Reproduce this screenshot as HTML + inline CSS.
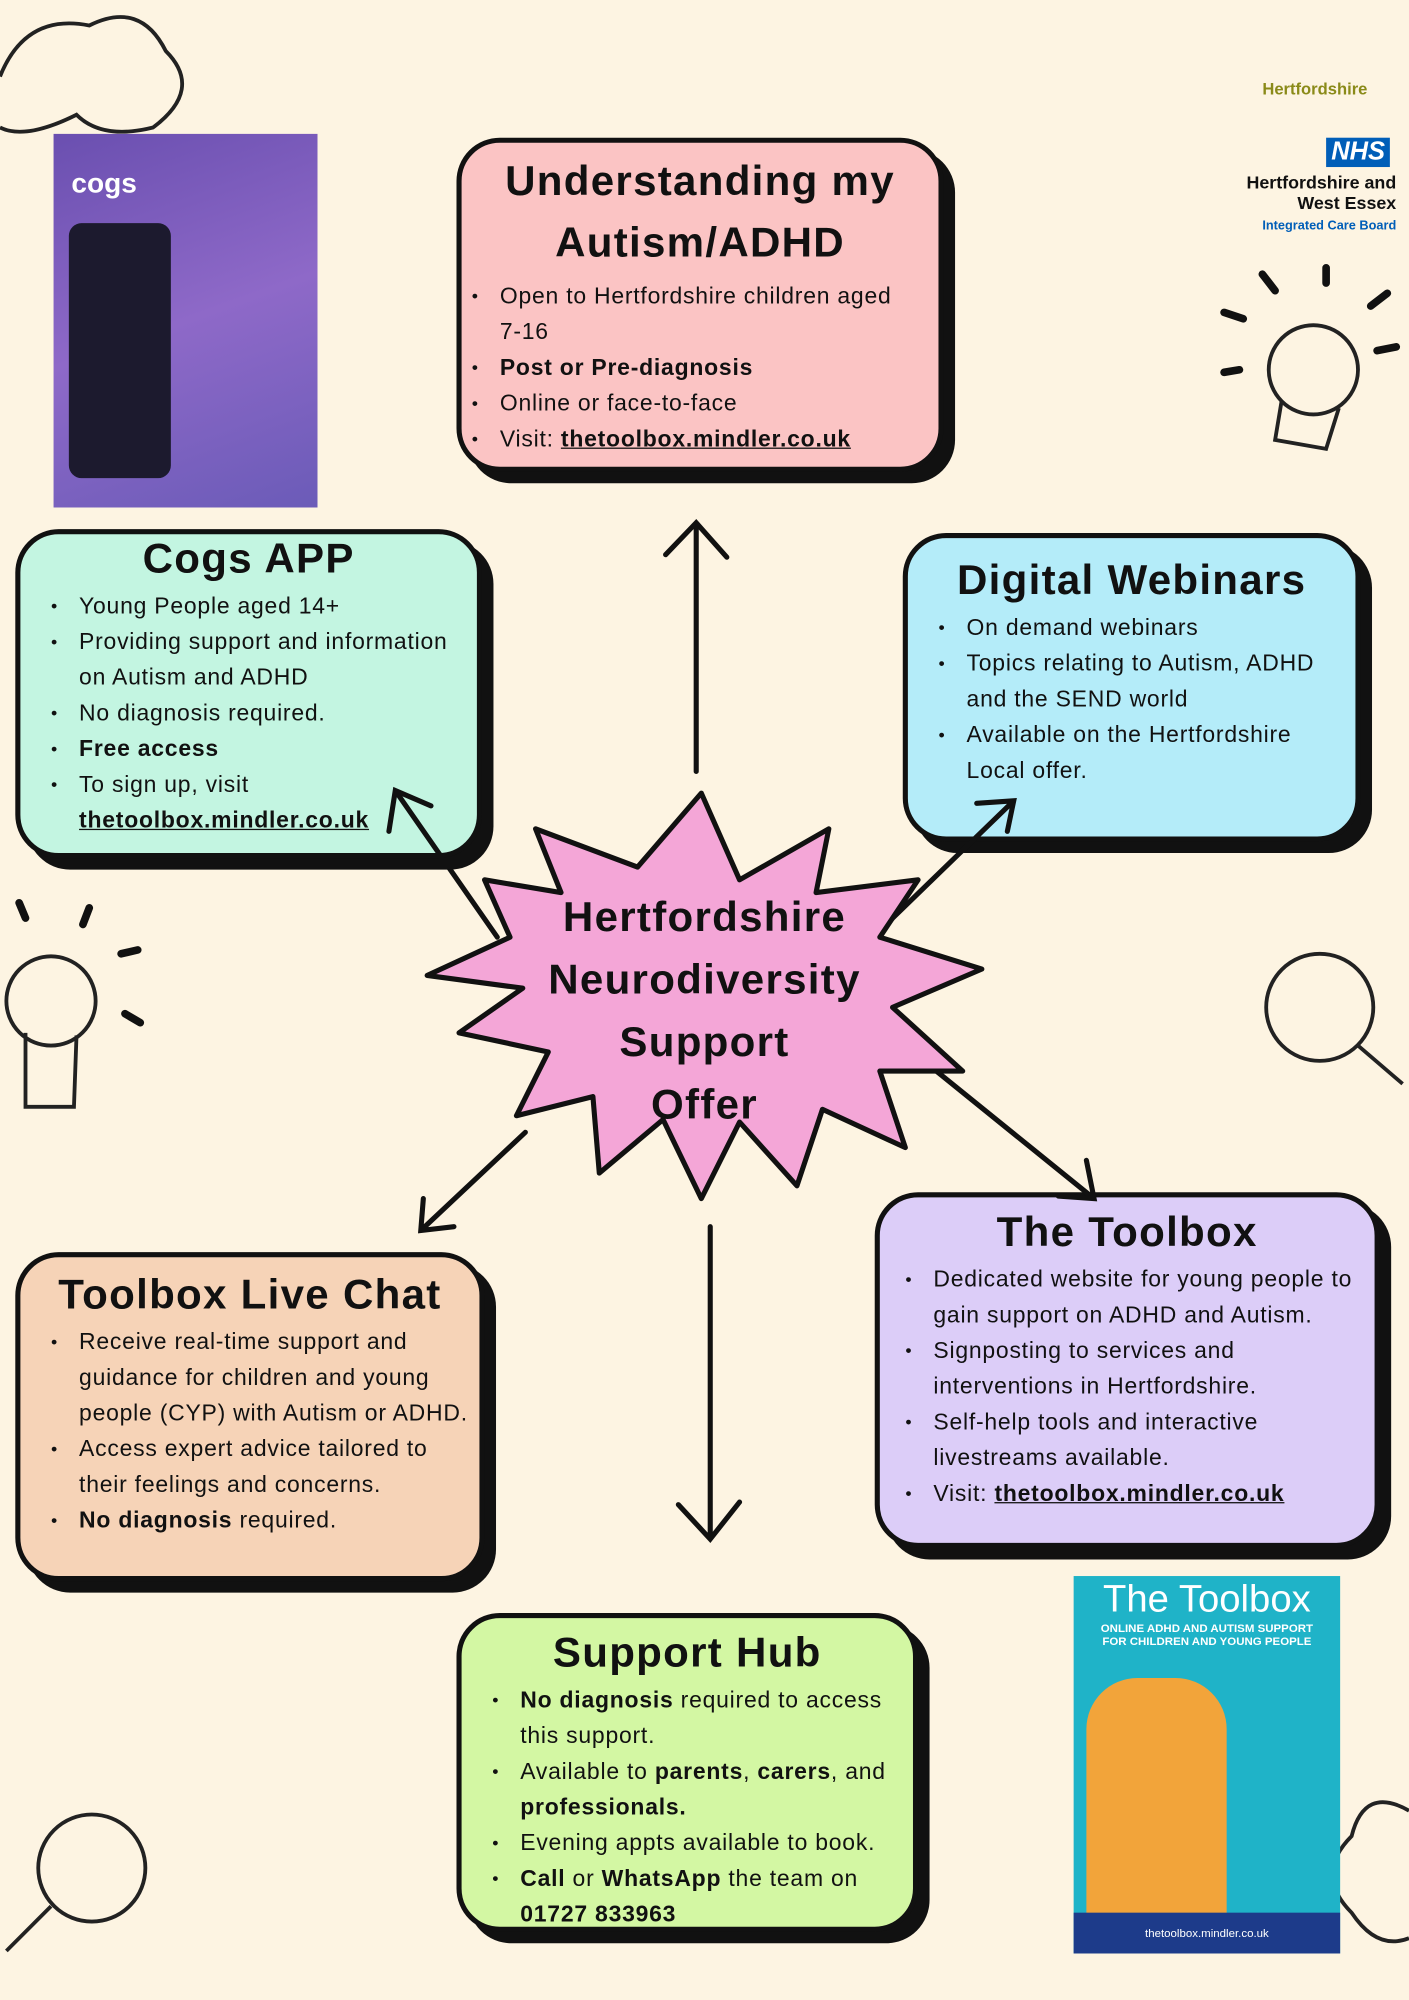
<!DOCTYPE html>
<html><head><meta charset="utf-8"><style>
html,body{margin:0;padding:0}
body{width:1409px;height:2000px;overflow:hidden;background:#fdf4e2}
#w{position:absolute;left:0;top:0;width:1105px;height:1568px;transform:scale(1.27511);transform-origin:0 0;font-family:"Liberation Sans","DejaVu Sans",sans-serif;color:#111}
.b{position:absolute;border:4px solid #111;border-radius:34px;box-shadow:9px 9px 0 #111;box-sizing:border-box}
.b h2{margin:0;text-align:center;font-weight:bold;font-size:33px;letter-spacing:1px}
.b ul{margin:4px 0 0 0;padding-left:46px;font-size:18px;line-height:28px;list-style:none;letter-spacing:0.6px}
.b li{position:relative}
.b li:before{content:"•";position:absolute;left:-22px;font-size:14px}
u{font-weight:bold}
</style></head><body><div id="w">
<svg width="1105" height="1568" style="position:absolute;left:0;top:0">
<g fill="none" stroke="#222" stroke-width="3">
<circle cx="1030" cy="290" r="35"/><path d="M1005 315 L1000 345 L1040 352 L1050 320"/>
<circle cx="40" cy="785" r="35"/><path d="M20 810 L20 868 L58 868 L60 812"/>
<circle cx="1035" cy="790" r="42"/><path d="M1065 820 L1100 850"/>
<circle cx="72" cy="1465" r="42"/><path d="M40 1495 L5 1530"/>
<path d="M0 60 Q20 10 70 20 Q110 0 130 40 Q160 70 120 100 Q80 110 60 90 Q20 110 0 100"/>
<path d="M1105 1420 Q1070 1400 1060 1440 Q1030 1470 1060 1500 Q1080 1530 1105 1520"/>
</g>
<g stroke="#111" stroke-width="6" stroke-linecap="round">
<path d="M960 245 L975 250 M990 215 L1000 228 M1040 210 L1040 222 M1075 240 L1088 230 M1080 275 L1095 272 M960 292 L972 290"/>
<path d="M15 708 L20 720 M70 712 L65 725 M95 748 L108 745 M98 795 L110 802"/>
</g>
</svg>
<div style="position:absolute;left:42px;top:105px;width:207px;height:293px;background:linear-gradient(160deg,#6a4fb0,#8e69c8 50%,#6b5bb8);color:#fff">
<div style="font-size:22px;font-weight:bold;padding:26px 0 0 14px">cogs</div>
<div style="position:absolute;left:12px;top:70px;width:80px;height:200px;background:#1c1a2e;border-radius:10px"></div>
</div>
<div style="position:absolute;left:842px;top:1236px;width:209px;height:296px;background:#1fb3c8;color:#fff;text-align:center">
<div style="font-size:30px;padding-top:2px">The Toolbox</div>
<div style="font-size:9px;font-weight:bold">ONLINE ADHD AND AUTISM SUPPORT<br>FOR CHILDREN AND YOUNG PEOPLE</div>
<div style="position:absolute;left:10px;top:80px;width:110px;height:185px;background:#f2a43a;border-radius:40px 40px 0 0"></div>
<div style="position:absolute;left:0;bottom:0;width:209px;height:32px;background:#1d3b8a;font-size:9px;line-height:32px">thetoolbox.mindler.co.uk</div>
</div>
<div style="position:absolute;left:990px;top:62px;color:#8a8a18;font-size:13px;font-weight:bold">Hertfordshire</div>
<div style="position:absolute;left:1040px;top:108px;background:#005eb8;color:#fff;font-weight:bold;font-style:italic;font-size:20px;padding:0 4px">NHS</div>
<div style="position:absolute;right:10px;top:135px;text-align:right;font-size:14px;font-weight:bold;line-height:16px">Hertfordshire and<br>West Essex<br><span style="color:#005eb8;font-size:10px">Integrated Care Board</span></div>

<div class="b" style="left:358px;top:108px;width:382px;height:262px;background:#fbc4c4">
<h2 style="line-height:48px;margin-top:6px">Understanding my<br>Autism/ADHD</h2>
<ul style="padding-left:30px"><li>Open to Hertfordshire children aged 7&#8209;16</li><li><b>Post or Pre-diagnosis</b></li><li>Online or face-to-face</li><li>Visit: <u>thetoolbox.mindler.co.uk</u></li></ul></div>

<div class="b" style="left:12px;top:415px;width:366px;height:258px;background:#c3f5e1">
<h2>Cogs APP</h2>
<ul><li>Young People aged 14+</li><li>Providing support and information on Autism and ADHD</li><li>No diagnosis required.</li><li><b>Free access</b></li><li>To sign up, visit <u>thetoolbox.mindler.co.uk</u></li></ul></div>

<div class="b" style="left:708px;top:418px;width:359px;height:242px;background:#b4ecf9">
<h2 style="margin-top:14px">Digital Webinars</h2>
<ul><li>On demand webinars</li><li>Topics relating to Autism, ADHD and the SEND world</li><li>Available on the Hertfordshire Local offer.</li></ul></div>

<div class="b" style="left:12px;top:982px;width:368px;height:258px;background:#f6d3b7">
<h2 style="margin-top:10px">Toolbox Live Chat</h2>
<ul><li>Receive real-time support and guidance for children and young people (CYP) with Autism or ADHD.</li><li>Access expert advice tailored to their feelings and concerns.</li><li><b>No diagnosis</b> required.</li></ul></div>

<div class="b" style="left:686px;top:935px;width:396px;height:279px;background:#dccdf8;overflow:hidden">
<h2 style="margin-top:8px">The Toolbox</h2>
<ul style="padding-left:42px;white-space:nowrap"><li>Dedicated website for young people to<br>gain support on ADHD and Autism.</li><li>Signposting to services and<br>interventions in Hertfordshire.</li><li>Self-help tools and interactive<br>livestreams available.</li><li>Visit: <u>thetoolbox.mindler.co.uk</u></li></ul></div>

<div class="b" style="left:358px;top:1265px;width:362px;height:250px;background:#d3f7a3">
<h2 style="margin-top:8px">Support Hub</h2>
<ul><li><b>No diagnosis</b> required to access this support.</li><li>Available to <b>parents</b>, <b>carers</b>, and <b>professionals.</b></li><li>Evening appts available to book.</li><li><b>Call</b> or <b>WhatsApp</b> the team on <b>01727 833963</b></li></ul></div>

<svg width="1105" height="1568" style="position:absolute;left:0;top:0">
<g fill="none" stroke="#111" stroke-width="4" stroke-linecap="round">
<path d="M546 605 L546 410 M522 435 L546 410 L570 437"/>
<path d="M390 735 L310 620 M305 652 L310 620 L338 632"/>
<path d="M698 722 L795 628 M766 630 L795 628 L790 652"/>
<path d="M412 888 L330 965 M332 940 L330 965 L356 962"/>
<path d="M722 830 L858 940 M830 938 L858 940 L852 910"/>
<path d="M557 962 L557 1205 M532 1180 L557 1207 L580 1178"/>
</g>
<polygon points="550,622 580,690 650,650 640,700 720,690 690,735 770,760 700,790 755,840 690,840 710,900 645,870 625,930 580,880 550,940 520,878 470,920 465,860 405,875 430,825 360,810 410,775 335,765 400,735 380,690 440,700 420,650 500,680" fill="#f4a6d7" stroke="#111" stroke-width="4" stroke-linejoin="round"/>
</svg>
<div style="position:absolute;left:400px;top:694px;width:305px;text-align:center;font-weight:bold;font-size:33px;line-height:49px;letter-spacing:1px">Hertfordshire<br>Neurodiversity<br>Support<br>Offer</div>
</div></body></html>
